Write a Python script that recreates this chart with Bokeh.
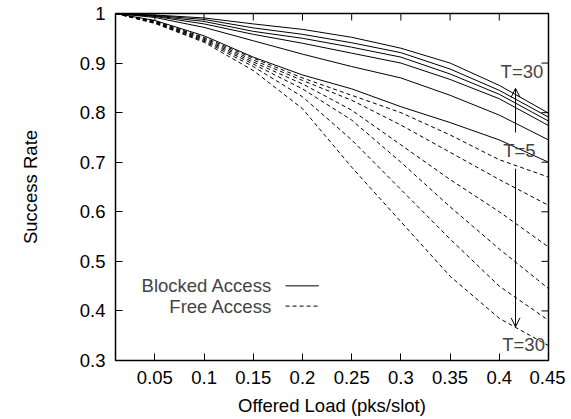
from bokeh.plotting import figure
from bokeh.models import Range1d, FixedTicker, Arrow, OpenHead, Label
from bokeh.embed import file_html
from bokeh.resources import INLINE

# ---- data ----
load = [0.01, 0.05, 0.10, 0.15, 0.20, 0.25, 0.30, 0.35, 0.40, 0.45]

blocked = {
    "T=5":  [1.0, 0.986, 0.955, 0.912, 0.876, 0.848, 0.812, 0.780, 0.745, 0.700],
    "T=10": [1.0, 0.992, 0.972, 0.945, 0.918, 0.893, 0.870, 0.835, 0.795, 0.745],
    "T=15": [1.0, 0.994, 0.979, 0.958, 0.940, 0.920, 0.900, 0.867, 0.828, 0.774],
    "T=20": [1.0, 0.995, 0.984, 0.964, 0.950, 0.932, 0.912, 0.878, 0.837, 0.783],
    "T=25": [1.0, 0.996, 0.988, 0.971, 0.958, 0.941, 0.921, 0.888, 0.845, 0.791],
    "T=30": [1.0, 0.997, 0.991, 0.979, 0.968, 0.952, 0.930, 0.900, 0.855, 0.799],
}

free = {
    "T=5":  [1.0, 0.985, 0.952, 0.910, 0.870, 0.835, 0.800, 0.755, 0.705, 0.670],
    "T=10": [1.0, 0.984, 0.950, 0.906, 0.865, 0.825, 0.775, 0.720, 0.665, 0.613],
    "T=15": [1.0, 0.983, 0.948, 0.902, 0.858, 0.805, 0.735, 0.665, 0.600, 0.529],
    "T=20": [1.0, 0.982, 0.946, 0.898, 0.848, 0.785, 0.700, 0.610, 0.525, 0.445],
    "T=25": [1.0, 0.981, 0.944, 0.893, 0.832, 0.745, 0.645, 0.545, 0.450, 0.381],
    "T=30": [1.0, 0.980, 0.942, 0.885, 0.808, 0.690, 0.580, 0.470, 0.385, 0.330],
}

x_ticks = [0.05, 0.10, 0.15, 0.20, 0.25, 0.30, 0.35, 0.40, 0.45]
y_ticks = [0.3, 0.4, 0.5, 0.6, 0.7, 0.8, 0.9, 1.0]
x_tick_labels = {0.05: "0.05", 0.10: "0.1", 0.15: "0.15", 0.20: "0.2", 0.25: "0.25",
                 0.30: "0.3", 0.35: "0.35", 0.40: "0.4", 0.45: "0.45"}
y_tick_labels = {0.3: "0.3", 0.4: "0.4", 0.5: "0.5", 0.6: "0.6", 0.7: "0.7",
                 0.8: "0.8", 0.9: "0.9", 1.0: "1"}

X_MIN, X_MAX = 0.01, 0.45
Y_MIN, Y_MAX = 0.3, 1.0

FONT = "Liberation Sans"
FS = "18.5px"

p = figure(width=565, height=419, output_backend="svg", toolbar_location=None,
           x_range=Range1d(X_MIN, X_MAX), y_range=Range1d(Y_MIN, Y_MAX),
           min_border_left=115, min_border_right=17, min_border_top=13, min_border_bottom=59)
p.background_fill_color = "white"
p.border_fill_color = "white"
p.xgrid.visible = False
p.ygrid.visible = False
p.outline_line_color = "black"
p.outline_line_width = 1.5

def style_axis(ax):
    ax.axis_line_color = None
    ax.major_tick_in = 7
    ax.major_tick_out = 0
    ax.minor_tick_in = 0
    ax.minor_tick_out = 0
    ax.major_tick_line_color = "black"
    ax.major_tick_line_width = 1
    ax.major_label_text_font = FONT
    ax.major_label_text_font_size = FS
    ax.major_label_text_color = "black"
    ax.axis_label_text_font = FONT
    ax.axis_label_text_font_size = FS
    ax.axis_label_text_font_style = "normal"
    ax.axis_label_text_color = "black"

xa = p.xaxis[0]
xa.ticker = FixedTicker(ticks=x_ticks)
xa.major_label_overrides = x_tick_labels
xa.axis_label = "Offered Load (pks/slot)"
style_axis(xa)
xa.major_label_standoff = 10
xa.axis_label_standoff = 8

ya = p.yaxis[0]
ya.ticker = FixedTicker(ticks=y_ticks)
ya.major_label_overrides = y_tick_labels
ya.axis_label = "Success Rate"
style_axis(ya)
ya.major_label_standoff = 10
ya.axis_label_standoff = 36

# mirrored inward ticks on the top and right edges (gnuplot style)
TICK_DX = (X_MAX - X_MIN) * 7 / 433
TICK_DY = (Y_MAX - Y_MIN) * 7 / 347
p.segment(x0=x_ticks, y0=[Y_MAX] * len(x_ticks), x1=x_ticks,
          y1=[Y_MAX - TICK_DY] * len(x_ticks), line_color="black", line_width=1)
p.segment(x0=[X_MAX] * len(y_ticks), y0=y_ticks, x1=[X_MAX - TICK_DX] * len(y_ticks),
          y1=y_ticks, line_color="black", line_width=1)

for k, v in blocked.items():
    p.line(load, v, line_color="black", line_width=1)
for k, v in free.items():
    p.line(load, v, line_color="black", line_width=1, line_dash="4 3")

# legend (gnuplot style: text then sample)
leg_text_x = 0.1692
leg_x = [0.1828, 0.2166]
leg_y = [0.4506, 0.4097]
p.add_layout(Label(x=leg_text_x, y=leg_y[0], text="Blocked Access", text_align="right",
                   text_baseline="middle", text_font=FONT, text_font_size=FS))
p.add_layout(Label(x=leg_text_x, y=leg_y[1], text="Free Access", text_align="right",
                   text_baseline="middle", text_font=FONT, text_font_size=FS))
p.line(leg_x, [leg_y[0], leg_y[0]], line_color="black", line_width=1)
p.line(leg_x, [leg_y[1], leg_y[1]], line_color="black", line_width=1, line_dash="4 3")

# annotations
ann_x = 0.4165
p.add_layout(Label(x=0.4013, y=0.882, text="T=30", text_align="left", text_baseline="middle",
                   text_font=FONT, text_font_size=FS))
p.add_layout(Label(x=0.404, y=0.724, text="T=5", text_align="left", text_baseline="middle",
                   text_font=FONT, text_font_size=FS))
p.add_layout(Label(x=0.403, y=0.332, text="T=30", text_align="left", text_baseline="middle",
                   text_font=FONT, text_font_size=FS))
p.add_layout(Arrow(end=OpenHead(size=9, line_width=1, line_color="black"),
                   x_start=ann_x, y_start=0.760, x_end=ann_x, y_end=0.849,
                   line_color="black", line_width=1))
p.add_layout(Arrow(end=OpenHead(size=9, line_width=1, line_color="black"),
                   x_start=ann_x, y_start=0.687, x_end=ann_x, y_end=0.368,
                   line_color="black", line_width=1))

open("out.html", "w").write(file_html(p, INLINE))
